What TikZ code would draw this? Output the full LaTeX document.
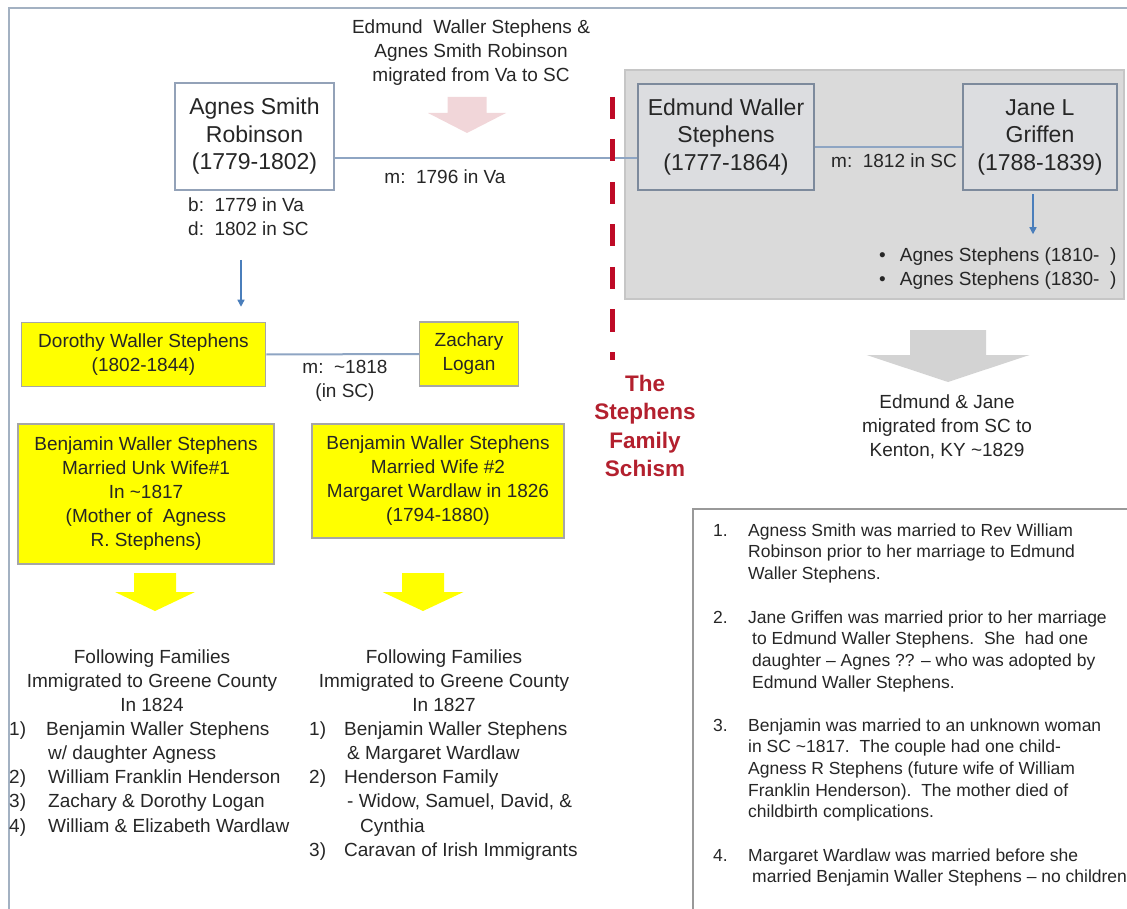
\documentclass[tikz,border=0pt]{standalone}
\usepackage{fontspec}
\setmainfont{Liberation Sans}
\usetikzlibrary{positioning,arrows.meta}
\definecolor{txtgray}{HTML}{262626}
\definecolor{framegray}{HTML}{A3B1C2}
\definecolor{linkblue}{HTML}{8EA5C3}
\definecolor{edgeblue}{HTML}{93A2B8}
\definecolor{panelgray}{HTML}{DADADA}
\definecolor{paneledge}{HTML}{C6C6C6}
\definecolor{boxgray}{HTML}{DCDDE0}
\definecolor{famyellow}{HTML}{FFFF00}
\definecolor{yellowedge}{HTML}{A6A6A6}
\definecolor{arrowpink}{HTML}{F1D6D9}
\definecolor{arrowgray}{HTML}{D3D3D3}
\definecolor{schismred}{HTML}{BE0A26}
\definecolor{schismtext}{HTML}{B3202E}
\definecolor{childblue}{HTML}{4A7EBB}
\newcommand*\bigfont{\fontsize{23}{27.5}\selectfont}
\newcommand*\midfont{\fontsize{19}{24}\selectfont}
\newcommand*\notefont{\fontsize{17.5}{21.7}\selectfont}
\newcommand*\schismfont{\fontsize{22.5}{28.5}\selectfont\bfseries}
% colour, x, top, head base, tip, stem half width, head half width
\newcommand*\blockarrow[7]{%
  \fill[#1] (#2-#6,#3) -- (#2+#6,#3) -- (#2+#6,#4) -- (#2+#7,#4) -- (#2,#5)
            -- (#2-#7,#4) -- (#2-#6,#4) -- cycle;}
\tikzset{
    person/.style     = {draw=edgeblue, line width=1.5pt, fill=white, align=center,
                         inner sep=0pt, font=\bigfont, text=txtgray},
    grayperson/.style = {person, fill=boxgray, draw=edgeblue!85!black, line width=2.5pt},
    famcell/.style    = {draw=yellowedge, fill=famyellow, line width=1.5pt, align=center,
                         inner sep=0pt, font=\midfont, text=txtgray},
    plain/.style      = {inner sep=0pt, font=\midfont, text=txtgray, align=center},
    listitem/.style   = {inner sep=0pt, font=\midfont, text=txtgray, anchor=base west},
    noteitem/.style   = {inner sep=0pt, font=\notefont, text=txtgray, anchor=base west},
    marriage/.style   = {draw=linkblue, line width=2pt},
    child/.style      = {draw=childblue, line width=1.3pt, -{Triangle[length=7pt,width=7pt]}},
    schism/.style     = {draw=schismred, line width=5pt, dash pattern=on 22pt off 20.5pt},
  }
\begin{document}
\begin{tikzpicture}[x=1pt,y=-1pt]
    \useasboundingbox (0,0) rectangle (1127,909);
    % page frame
    \draw[framegray, line width=2pt] (9,912) -- (9,8) -- (1130,8);

    % panel of the second family and the notes box
    \draw[paneledge, fill=panelgray, line width=1.5pt] (625,70) rectangle (1124,299);
    \draw[gray!80, line width=1.3pt] (693,509) rectangle (1140,920);

    % first marriage
    \node[person, minimum width=159pt, minimum height=107pt] (asr) at (254.5,136.5)
        {Agnes Smith\\Robinson\\(1779-1802)};
    \node[grayperson, minimum width=176pt, minimum height=106pt] (ews) at (726,137)
        {Edmund Waller\\Stephens\\(1777-1864)};
    \node[grayperson, minimum width=154pt, minimum height=106pt] (jlg) at (1040,137)
        {Jane L\\Griffen\\(1788-1839)};
    \draw[marriage] ([yshift=-21.5pt]asr.east) -- ([yshift=-21.5pt]asr.east -| ews.west);
    \draw[marriage] ([yshift=-10pt]ews.east) -- ([yshift=-10pt]ews.east -| jlg.west);
    \node[plain] (m1796) at (445,177) {m:\ \ 1796 in Va};
    \node[plain] (m1812) at (894,161) {m:\ \ 1812 in SC};
    \node[plain, align=left, anchor=west] (bd) at (188,216.5) {b:\ \ 1779 in Va\\d:\ \ 1802 in SC};

    % migration Va to SC
    \node[plain] (vasc) at (471,53) {Edmund\ \ Waller Stephens \&\\Agnes Smith Robinson\\migrated from Va to SC};
    \blockarrow{arrowpink}{467}{97}{113}{133}{19.5}{39}

    % the schism
    \draw[schism] (612,97) -- (612,360);
    \node[inner sep=0pt, font=\schismfont, text=schismtext, align=center] (schism) at (645,426)
        {The\\Stephens\\Family\\Schism};

    % children of Jane
    \draw[child] ([xshift=-7pt,yshift=-3pt]jlg.south) -- ++(0,40);
    \node[plain, align=left, anchor=west] (kids) at (879,269)
        {\textbullet\hspace{14pt}Agnes Stephens (1810-\ \ )\\\textbullet\hspace{14pt}Agnes Stephens (1830-\ \ )};

    % migration SC to KY
    \blockarrow{arrowgray}{948}{330}{355}{382}{38}{81.5}
    \node[plain] (kenton) at (947,427) {Edmund \& Jane\\migrated from SC to\\Kenton, KY \textasciitilde1829};

    % children of Agnes
    \coordinate (dstart) at (241,260);
    \node[famcell, minimum width=244pt, minimum height=64pt] (dws) at (143.5,354.5)
        {Dorothy Waller Stephens\\(1802-1844)};
    \node[famcell, minimum width=99pt, minimum height=64pt] (zl) at (469,354)
        {Zachary\\Logan};
    \draw[child, shorten >=15pt] (dstart) -- (dstart |- dws.north);
    \draw[marriage] (dws.east) -- (zl.west);
    \node[plain] (m1818) at (345,381) {m:\ \ \textasciitilde1818\\(in SC)};

    \node[famcell, minimum width=256pt, minimum height=140pt] (bws1) at (146,494)
        {Benjamin Waller Stephens\\Married Unk Wife\#1\\In \textasciitilde1817\\(Mother of\ \ Agness\\R. Stephens)};
    \node[famcell, minimum width=252pt, minimum height=114pt] (bws2) at (438,481)
        {Benjamin Waller Stephens\\Married Wife \#2\\Margaret Wardlaw in 1826\\(1794-1880)};
    \blockarrow{famyellow}{155}{573}{592}{611}{21}{40}
    \blockarrow{famyellow}{423}{573}{592}{611}{21}{40.5}

    % families that moved to Greene County
    \node[plain] (fam1824) at (152,681) {Following Families\\Immigrated to Greene County\\In 1824};
    \node[plain] (fam1827) at (444,681) {Following Families\\Immigrated to Greene County\\In 1827};
    \foreach \num/\txt [count=\i from 0] in {1)/Benjamin Waller Stephens, /{\hspace{2pt}w/ daughter Agness},
            2)/{\hspace{2pt}William Franklin Henderson}, 3)/{\hspace{2pt}Zachary \& Dorothy Logan},
            4)/{\hspace{2pt}William \& Elizabeth Wardlaw}} {
        \node[listitem] (fa\i) at (9,735+24.3*\i) {\num};
        \node[listitem] (fb\i) at (46,735+24.3*\i) {\txt};
    }
    \foreach \num/\txt [count=\i from 0] in {1)/Benjamin Waller Stephens, /{\hspace{3pt}\& Margaret Wardlaw},
            2)/Henderson Family, /{\hspace{3pt}- Widow, Samuel, David, \&}, /{\hspace{16pt}Cynthia},
            3)/Caravan of Irish Immigrants} {
        \node[listitem] (ga\i) at (309,735+24.3*\i) {\num};
        \node[listitem] (gb\i) at (344,735+24.3*\i) {\txt};
    }

    % notes
    \foreach \num/\ytop/\body in {
        1./536/{{Agness Smith was married to Rev William},{Robinson prior to her marriage to Edmund},{Waller Stephens.}},
        2./623/{{Jane Griffen was married prior to her marriage},{\hspace{4pt}to Edmund Waller Stephens.\ \ She\ \ had one},{\hspace{4pt}daughter -- Agnes ?? -- who was adopted by},{\hspace{4pt}Edmund Waller Stephens.}},
        3./731/{{Benjamin was married to an unknown woman},{in SC \textasciitilde1817.\ \ The couple had one child-},{Agness R Stephens (future wife of William},{Franklin Henderson).\ \ The mother died of},{childbirth complications.}},
        4./861/{{Margaret Wardlaw was married before she},{\hspace{4pt}married Benjamin Waller Stephens -- no children}}} {
        \node[noteitem] (n\num) at (713,\ytop) {\num};
        \foreach \ln [count=\k from 0] in \body {
            \node[noteitem] at (748,\ytop+21.7*\k) {\ln};
        }
    }
\end{tikzpicture}
\end{document}
